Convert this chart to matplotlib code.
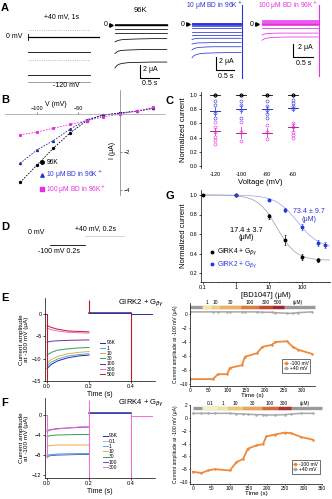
import matplotlib.pyplot as plt
import numpy as np
from matplotlib.lines import Line2D

plt.rcParams['font.family'] = ['Liberation Sans', 'DejaVu Sans']
plt.rcParams['axes.linewidth'] = 0.5
plt.rcParams['xtick.major.width'] = 0.5
plt.rcParams['ytick.major.width'] = 0.5
plt.rcParams['xtick.major.size'] = 1.5
plt.rcParams['ytick.major.size'] = 1.5
plt.rcParams['xtick.labelsize'] = 4
plt.rcParams['ytick.labelsize'] = 4
plt.rcParams['xtick.major.pad'] = 1
plt.rcParams['ytick.major.pad'] = 1

BLUE = '#2b35d8'
MAG = '#e62ee6'

# ---- A: step protocol and current traces ----
prot_levels = [20, 0, -40, -60, -100, -120]
prot_colors = ['#a0a0a0', 'k', 'k', '#a0a0a0', 'k', '#909090']
prot_styles = [':', '-', '-', ':', '-', '-']

a_t = [0.0, 0.05, 0.1, 0.2, 0.35, 0.6, 1.0, 1.4]
a_96k = [
    [0.2] * 8,
    [0.0] * 8,
    [-0.6] * 8,
    [-1.2] * 8,
    [-2.6, -2.45, -2.35, -2.25, -2.2, -2.15, -2.1, -2.1],
    [-4.4, -4.15, -4.0, -3.9, -3.85, -3.8, -3.75, -3.75],
    [-6.6, -6.25, -6.05, -5.9, -5.8, -5.75, -5.7, -5.7],
]
a_bd10 = [
    [0.2] * 8, [0.1] * 8, [0.0] * 8, [-0.15] * 8, [-0.3] * 8,
    [-0.6] * 8, [-1.2] * 8, [-1.7] * 8,
    [-2.4, -2.3, -2.25, -2.2, -2.2, -2.2, -2.2, -2.2],
    [-3.1, -3.0, -2.95, -2.9, -2.9, -2.85, -2.85, -2.85],
    [-4.0, -3.8, -3.7, -3.6, -3.55, -3.5, -3.5, -3.5],
    [-5.2, -4.9, -4.75, -4.6, -4.5, -4.45, -4.4, -4.4],
]
a_bd100 = [
    [0.6] * 8, [0.45] * 8, [0.3] * 8, [0.15] * 8, [0.0] * 8, [-0.15] * 8,
    [-0.6] * 8,
    [-1.7, -1.55, -1.5, -1.45, -1.4, -1.4, -1.4, -1.4],
    [-2.5, -2.3, -2.2, -2.1, -2.05, -2.0, -2.0, -2.0],
]

# ---- B: I-V relation ----
iv_v = [-120, -100, -80, -60, -40, -20, 0, 20, 40]
iv_96k = [-3.6, -2.7, -1.8, -1.0, -0.35, -0.05, 0.05, 0.15, 0.3]
iv_bd10 = [-2.6, -1.9, -1.4, -0.8, -0.3, -0.05, 0.05, 0.15, 0.3]
iv_bd100 = [-1.1, -0.95, -0.75, -0.55, -0.35, -0.15, 0.0, 0.15, 0.35]

# ---- C: normalized current per voltage ----
c_volts = ['-120', '-100', '-80', '-60']
c_ctrl = [1.0, 1.0, 1.0, 1.0]
c_bd10_pts = [[0.91, 0.86, 0.74, 0.67], [0.91, 0.86, 0.79, 0.67],
              [0.91, 0.85, 0.79, 0.73, 0.67], [0.93, 0.89, 0.84, 0.80]]
c_bd100_pts = [[0.62, 0.55, 0.48, 0.41, 0.37, 0.31], [0.62, 0.48, 0.35],
               [0.58, 0.48, 0.38], [0.60, 0.55, 0.48, 0.44, 0.39]]
c_bd10_mean = [0.77, 0.80, 0.80, 0.81]
c_bd10_sem = [0.06, 0.06, 0.05, 0.04]
c_bd100_mean = [0.49, 0.47, 0.47, 0.55]
c_bd100_sem = [0.05, 0.08, 0.06, 0.06]

# ---- G: dose response ----
g4_conc = [0.1, 1, 10, 30, 100, 300]
g4_resp = [1.0, 1.0, 0.78, 0.54, 0.36, 0.33]
g4_err = [0.0, 0.0, 0.03, 0.05, 0.03, 0.02]
g2_conc = [1, 10, 30, 100, 300, 500]
g2_resp = [1.0, 0.95, 0.85, 0.67, 0.51, 0.49]
g2_err = [0.0, 0.01, 0.02, 0.03, 0.03, 0.03]
g4_ic50, g4_hill, g4_bottom = 17.4, 1.5, 0.33
g2_ic50, g2_hill, g2_bottom = 73.4, 1.3, 0.45

# ---- E / F: traces at -100 mV ----
step_t = [0.0, 0.02, 0.05, 0.1, 0.15, 0.2]
e_labels = ['96K', '1', '10', '30', '100', '300', '500']
e_colors = ['#1f2f9e', '#4aa8e8', '#f2a93b', '#2e9e5e', '#6b2fa8', '#f06ad0', '#c0182a']
e_traces = [
    [-12.2, -11.3, -10.5, -9.8, -9.4, -9.2],
    [-11.6, -10.8, -10.1, -9.4, -9.1, -8.9],
    [-11.0, -10.2, -9.5, -8.9, -8.6, -8.4],
    [-9.2, -8.6, -8.1, -7.8, -7.6, -7.5],
    [-6.3, -6.1, -6.0, -5.9, -5.85, -5.8],
    [-3.2, -3.5, -3.8, -4.1, -4.2, -4.3],
    [-2.6, -3.0, -3.4, -3.8, -3.9, -4.0],
]
e_pos40 = 0.2
e_spike_t = [0.0, 0.2, 0.4]
e_spike_lo = [-15.5, 0.2, -15.5]
e_spike_hi = [0.0, 3.2, 0.2]

f_labels = ['96K', '0.1', '1', '10', '30', '100', '300']
f_colors = ['#1f2f9e', '#b8a8e8', '#4aa8e8', '#f2a93b', '#2e9e5e', '#7b3fb8', '#f070d8']
f_traces = [
    [-8.3, -8.1, -8.0, -7.95, -7.9, -7.9],
    [-8.2, -8.0, -7.9, -7.85, -7.8, -7.8],
    [-8.0, -7.9, -7.8, -7.75, -7.7, -7.7],
    [-6.2, -6.1, -6.0, -6.0, -6.0, -6.0],
    [-4.3, -4.1, -4.0, -3.95, -3.9, -3.9],
    [-3.1, -2.9, -2.7, -2.6, -2.5, -2.4],
    [-3.3, -3.0, -2.8, -2.6, -2.4, -2.3],
]
f_pos40 = 0.5
f_spike_t = [0.0, 0.2, 0.4]
f_spike_lo = [-8.5, -12.5, -12.5]
f_spike_hi = [0.0, 3.0, 0.5]

# ---- E / F: time courses ----
ec_t = [0, 61, 75, 99, 107, 139, 147, 179, 193, 219, 227, 259, 275, 289, 326]
ec_neg = [-9.3, -9.3, -8.6, -8.6, -7.7, -7.3, -6.1, -5.6, -4.7, -4.4, -4.0, -3.9, -4.7, -5.1, -5.7]
ec_pos = [0.3, 0.3, 0.3, 0.3, 0.3, 0.3, 0.3, 0.3, 0.25, 0.25, 0.2, 0.1, 0.1, 0.2, 0.3]
ec_conc = ['1', '10', '30', '100', '300', '500']
ec_start = [32, 58, 80, 135, 185, 220]
ec_end = [58, 80, 135, 185, 220, 250]
ec_colors = ['#f4e3a1', '#f2cf7c', '#eeb061', '#e07b3c', '#c8452f', '#a8262a']

fc_t = [0, 23, 41, 59, 100, 118, 136, 149, 172, 190, 199, 222, 249, 267, 294, 325]
fc_neg = [-8.4, -8.6, -8.2, -8.0, -8.2, -6.9, -6.4, -4.8, -4.3, -4.1, -2.9, -2.6, -2.3, -2.4, -3.0, -3.4]
fc_pos = [0.7, 0.7, 0.7, 0.7, 0.7, 0.65, 0.6, 0.55, 0.5, 0.5, 0.45, 0.45, 0.5, 0.6, 0.7, 0.7]
fc_conc = ['0.1', '1', '10', '30', '100', '300']
fc_start = [24, 68, 95, 135, 186, 230]
fc_end = [68, 95, 135, 186, 230, 265]
fc_colors = ['#f6efc0', '#f4e3a1', '#f0c873', '#eba55a', '#db6a3a', '#b8302c']

ORANGE = '#ef8a3a'
GRAY = '#9a9a9a'

W, H = 332, 499
fig = plt.figure(figsize=(W / 100, H / 100), dpi=100)


def px_axes(x0, y0, x1, y1):
    return fig.add_axes([x0 / W, 1 - y1 / H, (x1 - x0) / W, (y1 - y0) / H])


def px_text(x, y, s, **kw):
    fig.text(x / W, 1 - y / H, s, **kw)


def trace_axes(x0, y0, x1, y1, t0_px, zero_px, px_s, px_u):
    ax = px_axes(x0, y0, x1, y1)
    ax.set_xlim((x0 - t0_px) / px_s, (x1 - t0_px) / px_s)
    ax.set_ylim((zero_px - y1) / px_u, (zero_px - y0) / px_u)
    ax.axis('off')
    return ax


for letter, x, y in [('A', 1, 8), ('B', 1, 100), ('C', 166, 101), ('D', 1, 227),
                     ('E', 1, 298), ('F', 1, 403), ('G', 166, 196)]:
    px_text(x, y, letter, fontsize=8, fontweight='bold', va='center', ha='left')

# A: voltage protocol
ax = trace_axes(10, 12, 104, 90, 28, 37, 62, 0.375)
for lvl, c, ls in zip(prot_levels, prot_colors, prot_styles):
    ax.plot([0, 1.0], [lvl, lvl], color=c, ls=ls, lw=0.6)
ax.plot([0, 1.15], [0, 0], color='k', lw=0.9)
ax.plot([0, 0], [-8, 8], color='k', lw=0.6)
px_text(62, 17, '+40 mV, 1s', fontsize=5, ha='center', va='center')
px_text(22, 37, '0 mV', fontsize=5, ha='right', va='center')
px_text(66, 85, '-120 mV', fontsize=5, ha='center', va='center')


def draw_traces(ax, traces, color, bar_t, bar_v, bar_s, txt_ua, txt_s, vline=None):
    for tr in traces:
        lw = 1.0 if tr[0] == 0.0 and tr[-1] == 0.0 else 0.55
        ax.plot(a_t, tr, color=color, lw=lw)
    ax.plot([-0.12], [0], marker='>', ms=2.5, color='k', clip_on=False)
    ax.text(-0.2, 0, '0', fontsize=5, ha='right', va='center')
    ax.plot([bar_t, bar_t, bar_t + bar_s], [bar_v, bar_v - 2, bar_v - 2], color='k', lw=0.8)
    ax.text(txt_ua[0], txt_ua[1], '2 μA', fontsize=5, va='center')
    ax.text(txt_s[0], txt_s[1], '0.5 s', fontsize=5, ha='center', va='top')
    if vline is not None:
        ax.plot([vline[0], vline[0]], [vline[1], vline[2]], color=color, lw=0.8)


ax = trace_axes(100, 12, 172, 82, 115, 25, 37, 6.5)
draw_traces(ax, a_96k, 'k', 0.68, -6.15, 0.5, (0.76, -6.8), (0.95, -8.5))
px_text(140, 10, '96K', fontsize=5.5, ha='center', va='center')

ax = trace_axes(176, 2, 250, 82, 192, 24, 35, 6.5)
draw_traces(ax, a_bd10, BLUE, 0.69, -5.1, 0.5, (0.78, -5.8), (0.95, -7.5),
            vline=(1.43, 2.9, -8.3))
px_text(214, 6, '10 μM BD in 96K$^+$', fontsize=4.8, ha='center', va='center', color=BLUE)

ax = trace_axes(250, 2, 326, 82, 262, 24, 40, 6.5)
draw_traces(ax, a_bd100, MAG, 0.78, -3.1, 0.5, (0.9, -3.6), (1.03, -5.5),
            vline=(1.43, 2.9, -8.0))
px_text(288, 6, '100 μM BD in 96K$^+$', fontsize=4.8, ha='center', va='center', color=MAG)

# B: I-V curves with crossing axes
ax = px_axes(5, 90, 165, 195)
ax.set_xlim((5 - 120) / 0.833, (165 - 120) / 0.833)
ax.set_ylim((114 - 195) / 19, (114 - 90) / 19)
ax.spines['bottom'].set_visible(False)
ax.spines['left'].set_visible(False)
ax.spines['top'].set_position(('data', 0))
ax.spines['right'].set_position(('data', 0))
ax.spines['top'].set_color('#999999')
ax.spines['right'].set_color('#777777')
ax.xaxis.tick_top()
ax.yaxis.tick_right()
ax.set_xticks([-100, -50])
ax.set_yticks([-2, -4])
ax.tick_params(colors='#555555', labelcolor='k', labelsize=4)
ax.patch.set_alpha(0)
ax.plot(iv_v, iv_96k, color='k', ls=(0, (2, 1.5)), lw=0.6, marker='o', ms=1.4)
ax.plot(iv_v, iv_bd10, color='#1c2a9c', ls=(0, (2, 1.5)), lw=0.6, marker='^', ms=1.4)
ax.plot(iv_v, iv_bd100, color=MAG, ls=(0, (2, 1.5)), lw=0.6, marker='s', ms=1.2)
ax.text(-77, 0.5, 'V (mV)', fontsize=5, ha='center', va='center')
ax.text(-9, -1.9, 'I (μA)', fontsize=5, ha='center', va='center', rotation=90)
handles = [Line2D([], [], color='k', marker='o', ls='none', ms=2.5),
           Line2D([], [], color=BLUE, marker='^', ls='none', ms=2.5),
           Line2D([], [], color=MAG, marker='s', ls='none', ms=2.5)]
ax.legend(handles, ['96K', '10 μM BD in 96K$^+$', '100 μM BD in 96K$^+$'],
          loc='upper left', bbox_to_anchor=(0.2, 0.37), frameon=False, fontsize=4.8,
          handlelength=0.6, handletextpad=0.3, labelspacing=0.35, borderpad=0,
          labelcolor='linecolor')

# C: normalized current
ax = px_axes(201, 92, 320, 168)
ax.set_xlim(-0.54, 4.04)
ax.set_ylim(-0.028, 1.042)
for s in ['top', 'right', 'bottom']:
    ax.spines[s].set_visible(False)
ax.set_xticks(range(len(c_volts)))
ax.set_xticklabels(c_volts)
ax.tick_params(axis='x', length=0, pad=3)
ax.set_yticks([0, 0.2, 0.4, 0.6, 0.8, 1.0])
ax.set_yticklabels(['0.0', '0.2', '0.4', '0.6', '0.8', '1.0'])
ax.set_xlabel('Voltage (mV)', fontsize=5.5, labelpad=1)
ax.set_ylabel('Normalized current', fontsize=5.5, labelpad=2)
for i in range(len(c_volts)):
    ax.plot([i] * 3, [c_ctrl[i]] * 3, 'o', mfc='none', mec='k', ms=2.2, mew=0.4)
    ax.plot([i - 0.2, i + 0.2], [c_ctrl[i]] * 2, color='k', lw=0.6)
    ax.plot([i] * len(c_bd10_pts[i]), c_bd10_pts[i], 'o', mfc='none', mec=BLUE, ms=2.2, mew=0.4)
    ax.plot([i] * len(c_bd100_pts[i]), c_bd100_pts[i], 'o', mfc='none', mec=MAG, ms=2.2, mew=0.4)
    for m, e, c in [(c_bd10_mean[i], c_bd10_sem[i], BLUE), (c_bd100_mean[i], c_bd100_sem[i], '#c0209e')]:
        ax.plot([i - 0.2, i + 0.2], [m, m], color=c, lw=0.7)
        ax.plot([i, i], [m - e, m + e], color=c, lw=0.5)

# D: two-step protocol
ax = trace_axes(40, 225, 130, 255, 50, 238.6, 175, 0.0643)
ax.plot([0, 0.2], [-100, -100], color='k', lw=0.6)
ax.plot([0.2, 0.42], [40, 40], color='#cccccc', lw=0.6)
px_text(28, 233, '0 mV', fontsize=5, va='center')
px_text(75, 229, '+40 mV, 0.2s', fontsize=5, va='center')
px_text(38, 252, '-100 mV 0.2s', fontsize=5, va='center')

# G: dose-response
ax = px_axes(201, 190, 330, 282)
ax.set_xscale('log')
ax.set_xlim(10 ** (-1 - 2 / 33), 10 ** (-1 + 127 / 33))
ax.set_ylim(0.2 - 9 / 97.5, 1.0 + 5 / 97.5)
ax.spines['top'].set_visible(False)
ax.spines['right'].set_visible(False)
ax.set_xticks([0.1, 1, 10, 100])
ax.set_xticklabels(['0.1', '1', '10', '100'])
ax.tick_params(which='minor', length=0.8, width=0.3)
ax.set_yticks([0.2, 0.4, 0.6, 0.8, 1.0])
ax.set_yticklabels(['0.2', '0.4', '0.6', '0.8', '1.0'])
ax.set_xlabel('[BD1047] (μM)', fontsize=5.5, labelpad=1)
ax.set_ylabel('Normalized current', fontsize=5.5, labelpad=2)
fit_x = np.logspace(-1, 2.85, 120)
ax.plot(fit_x, g4_bottom + (1 - g4_bottom) / (1 + (fit_x / g4_ic50) ** g4_hill),
        color='#9a9a9a', lw=0.5)
ax.plot(fit_x, g2_bottom + (1 - g2_bottom) / (1 + (fit_x / g2_ic50) ** g2_hill),
        color='#95a2e8', lw=0.5)
ax.errorbar(g4_conc, g4_resp, yerr=g4_err, fmt='o', ms=1.8, color='k',
            elinewidth=0.5, capsize=1, capthick=0.4)
ax.errorbar(g2_conc, g2_resp, yerr=g2_err, fmt='o', ms=1.8, color=BLUE,
            elinewidth=0.5, capsize=1, capthick=0.4)
ax.text(2.0, 0.6, f'{g4_ic50} ± 3.7\n(μM)', fontsize=5.3, ha='center',
        va='center', linespacing=1.1)
ax.text(165, 0.79, f'{g2_ic50} ± 9.7\n(μM)', fontsize=5.1, ha='center', va='center',
        color=BLUE, linespacing=1.1)
handles = [Line2D([], [], color='k', marker='o', ls='none', ms=1.8),
           Line2D([], [], color=BLUE, marker='o', ls='none', ms=1.8)]
ax.legend(handles, ['GIRK4 + G$_{\\beta\\gamma}$', 'GIRK2 + G$_{\\beta\\gamma}$'],
          loc='upper left', bbox_to_anchor=(0.05, 0.42), frameon=False, fontsize=4.8,
          handlelength=0.5, handletextpad=0.4, labelspacing=0.2, borderpad=0,
          labelcolor='linecolor')


def trace_panel(rect, zero_px, px_u, yticks, labels, colors, traces, pos40,
                sp_t, sp_lo, sp_hi, title, leg_xy, tail_color, tail_v):
    x0, y0, x1, y1 = rect
    ax = px_axes(*rect)
    ax.set_xlim((x0 - 47) / 210, (x1 - 47) / 210)
    ax.set_ylim((zero_px - y1) / px_u, (zero_px - y0) / px_u)
    ax.spines['top'].set_visible(False)
    ax.spines['right'].set_visible(False)
    ax.set_xticks([0, 0.2, 0.4])
    ax.set_xticklabels(['0.0', '0.2', '0.4'])
    ax.set_yticks(yticks)
    for tr, c, lab in zip(traces, colors, labels):
        ax.plot(step_t, tr, color=c, lw=0.7, label=lab)
    for c in colors:
        ax.plot([0.2, 0.4], [pos40, pos40], color=c, lw=0.7)
    ax.plot([0.2, 0.4], [pos40, pos40], color=colors[0], lw=1.1)
    ax.plot([-0.01, 0], [0, 0], color=colors[-1], lw=0.7)
    ax.vlines(sp_t, sp_lo, sp_hi, color=colors[-1], lw=0.8)
    ax.plot([0.4, 0.5], [tail_v, tail_v], color=tail_color, lw=0.7)
    ax.set_xlabel('Time (s)', fontsize=5, labelpad=1)
    ax.set_ylabel('Current amplitude\nat -100 mV (μA)', fontsize=4.6, labelpad=2,
                  linespacing=1.0)
    ax.text(0.45, (zero_px - y0) / px_u, title, fontsize=5.5, ha='center', va='top')
    ax.legend(loc='center left', bbox_to_anchor=leg_xy, frameon=False, fontsize=3.6,
              handlelength=1.0, handletextpad=0.3, labelspacing=0.05, borderpad=0)
    return ax


trace_panel((45, 298, 155, 381), 314, 4.47, [0, -5, -10, -15], e_labels, e_colors,
            e_traces, e_pos40, e_spike_t, e_spike_lo, e_spike_hi,
            'GIRK2 + G$_{\\beta\\gamma}$', (0.48, 0.27), e_colors[0], 0.0)
trace_panel((45, 398, 155, 478), 415, 5.0, [0, -4, -8, -12], f_labels, f_colors,
            f_traces, f_pos40, f_spike_t, f_spike_lo, f_spike_hi,
            'GIRK4 + G$_{\\beta\\gamma}$', (0.5, 0.33), f_colors[-1], -0.2)


def course_panel(rect, t0_px, zero_px, px_u, xmax_t, yticks, xticks, t, neg, pos,
                 conc, start, end, colors, bar_y, leg_anchor):
    x0, y0, x1, y1 = rect
    ax = px_axes(*rect)
    ax.set_xlim((x0 - t0_px) / 0.374, xmax_t)
    ax.set_ylim((zero_px - y1) / px_u, (zero_px - y0) / px_u)
    ax.spines['top'].set_visible(False)
    ax.spines['right'].set_visible(False)
    ax.set_xticks(xticks)
    ax.set_yticks(yticks)
    ax.tick_params(labelsize=3.5, length=1, pad=0.6)
    ax.hlines(bar_y, 0, xmax_t, color=GRAY, lw=2.4, clip_on=False)
    ax.hlines([bar_y] * len(conc), start, end, colors=colors, lw=2.4, clip_on=False)
    for lab, s, e in zip(conc, start, end):
        ax.text((s + e) / 2, bar_y + 0.22, lab, fontsize=3.5, ha='center', va='bottom')
    ax.text(end[-1] + 38, bar_y + 0.22, '(μM)', fontsize=3.5, ha='center', va='bottom')
    ax.plot(t, pos, color='#a8a8a8', lw=1.1, label='+40 mV', marker='o', ms=0.8)
    ax.plot(t, neg, color=ORANGE, lw=1.3, label='-100 mV', marker='o', ms=0.8)
    handles = [Line2D([], [], color=ORANGE, marker='o', ms=1.6, lw=0.6),
               Line2D([], [], color='#a8a8a8', marker='o', ms=1.6, lw=0.6)]
    leg = ax.legend(handles, ['-100 mV', '+40 mV'], loc='lower right',
                    bbox_to_anchor=leg_anchor, fontsize=3.6, handlelength=0.8,
                    handletextpad=0.4, labelspacing=0.1, borderpad=0.3,
                    fancybox=False, edgecolor='k', framealpha=1)
    leg.get_frame().set_linewidth(0.4)
    ax.set_xlabel('Time (s)', fontsize=4.5, labelpad=0)
    ax.set_ylabel('Current amplitude at -100 mV (μA)', fontsize=3.6, labelpad=1)
    return ax


course_panel((190, 303, 315, 386), 190, 314, 7.0, 334, [0, -2, -4, -6, -8, -10],
             [0, 50, 100, 150, 200, 250, 300], ec_t, ec_neg, ec_pos,
             ec_conc, ec_start, ec_end, ec_colors, 1.0, (0.98, 0.13))
course_panel((190, 405, 322, 484), 193, 417, 6.5, 349, [2, 0, -2, -4, -6, -8, -10],
             [0, 50, 100, 150, 200, 250, 300, 350], fc_t, fc_neg, fc_pos,
             fc_conc, fc_start, fc_end, fc_colors, 1.6, (1.0, 0.1))

fig.savefig('out.png', dpi=100)
